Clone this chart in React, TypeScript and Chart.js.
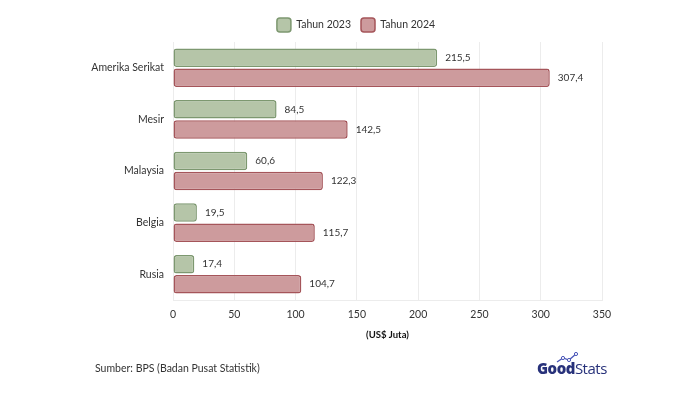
import React, { useEffect, useRef } from "react";
import { Chart, registerables } from "chart.js";

Chart.register(...registerables);

const categories = ["Amerika Serikat", "Mesir", "Malaysia", "Belgia", "Rusia"];
const values2023 = [215.5, 84.5, 60.6, 19.5, 17.4];
const values2024 = [307.4, 142.5, 122.3, 115.7, 104.7];
const seriesNames = ["Tahun 2023", "Tahun 2024"];
const xTitle = "(US$ Juta)";
const sourceText = "Sumber: BPS (Badan Pusat Statistik)";

const FONT = "Lato, 'Open Sans', sans-serif";

const valueLabels = {
  id: "valueLabels",
  afterDatasetsDraw(chart: any) {
    const ctx = chart.ctx;
    ctx.save();
    ctx.font = `10px ${FONT}`;
    ctx.fillStyle = "#333";
    ctx.textBaseline = "middle";
    ctx.textAlign = "left";
    chart.data.datasets.forEach((ds: any, i: number) => {
      const meta = chart.getDatasetMeta(i);
      meta.data.forEach((bar: any, j: number) => {
        const v = ds.data[j];
        ctx.fillText(v.toFixed(1).replace(".", ","), bar.x + 8, bar.y);
      });
    });
    ctx.restore();
  },
};

const legendShift = {
  id: "legendShift",
  afterLayout(chart: any) {
    if (chart.legend) {
      chart.legend.left += 55;
      chart.legend.right += 55;
    }
  },
};

export default function App() {
  const ref = useRef<HTMLCanvasElement>(null);
  useEffect(() => {
    const chart = new Chart(ref.current!, {
      type: "bar",
      data: {
        labels: categories,
        datasets: [
          {
            label: seriesNames[0],
            data: values2023,
            backgroundColor: "rgb(181,197,168)",
            borderColor: "rgb(125,152,112)",
            borderWidth: 1.5,
            borderRadius: 3,
            borderSkipped: false,
            barPercentage: 0.92,
            categoryPercentage: 0.78,
          },
          {
            label: seriesNames[1],
            data: values2024,
            backgroundColor: "rgb(205,155,157)",
            borderColor: "rgb(165,85,90)",
            borderWidth: 1.5,
            borderRadius: 3,
            borderSkipped: false,
            barPercentage: 0.92,
            categoryPercentage: 0.78,
          },
        ],
      },
      options: {
        indexAxis: "y",
        responsive: false,
        animation: false,
        layout: { padding: { top: 8, right: 98, bottom: 48, left: 0 } },
        plugins: {
          legend: {
            position: "top",
            labels: {
              boxWidth: 14,
              boxHeight: 14,
              padding: 10,
              color: "#333",
              font: { family: FONT, size: 10.5 },
              useBorderRadius: true,
              borderRadius: 3,
            } as any,
          },
          tooltip: { enabled: false },
        },
        scales: {
          x: {
            min: 0,
            max: 350,
            ticks: { stepSize: 50, color: "#333", font: { family: FONT, size: 10.5 }, padding: 8 },
            grid: { color: "#ececec", drawTicks: false },
            border: { color: "#ececec" },
            title: {
              display: true,
              text: xTitle,
              color: "#111",
              font: { family: FONT, size: 9.5, weight: "bold" },
              padding: { top: 1 },
            },
          },
          y: {
            ticks: { color: "#333", font: { family: FONT, size: 10.5 }, padding: 1 },
            grid: { display: false },
            border: { color: "#ececec" },
            afterFit(scale: any) {
              scale.width = 173;
            },
          },
        },
      },
      plugins: [valueLabels, legendShift],
    });
    return () => chart.destroy();
  }, []);
  return (
    <div style={{ position: "fixed", left: 0, top: 0, width: 700, height: 393, background: "#fff" }}>
      <canvas ref={ref} width={700} height={393} style={{ display: "block" }} />
      <div
        style={{
          position: "absolute",
          left: 95,
          top: 362,
          fontFamily: FONT,
          fontSize: 10.5,
          color: "#333",
        }}
      >
        {sourceText}
      </div>
      <div
        style={{
          position: "absolute",
          left: 537,
          top: 358,
          fontFamily: "'Open Sans', sans-serif",
          fontSize: 15,
          color: "#27317a",
          letterSpacing: -0.5,
        }}
      >
        <span style={{ fontWeight: 800 }}>Good</span>
        <span style={{ fontWeight: 400 }}>Stats</span>
      </div>
      <svg style={{ position: "absolute", left: 555, top: 352 }} width={24} height={12}>
        <polyline points="2,10 8,6 14,8 21,2" fill="none" stroke="#4a56b8" strokeWidth={1.3} />
        <circle cx={8} cy={6} r={1.6} fill="#fff" stroke="#4a56b8" strokeWidth={1} />
        <circle cx={14} cy={8} r={1.6} fill="#fff" stroke="#4a56b8" strokeWidth={1} />
        <circle cx={21} cy={2} r={1.6} fill="#fff" stroke="#4a56b8" strokeWidth={1} />
      </svg>
    </div>
  );
}
